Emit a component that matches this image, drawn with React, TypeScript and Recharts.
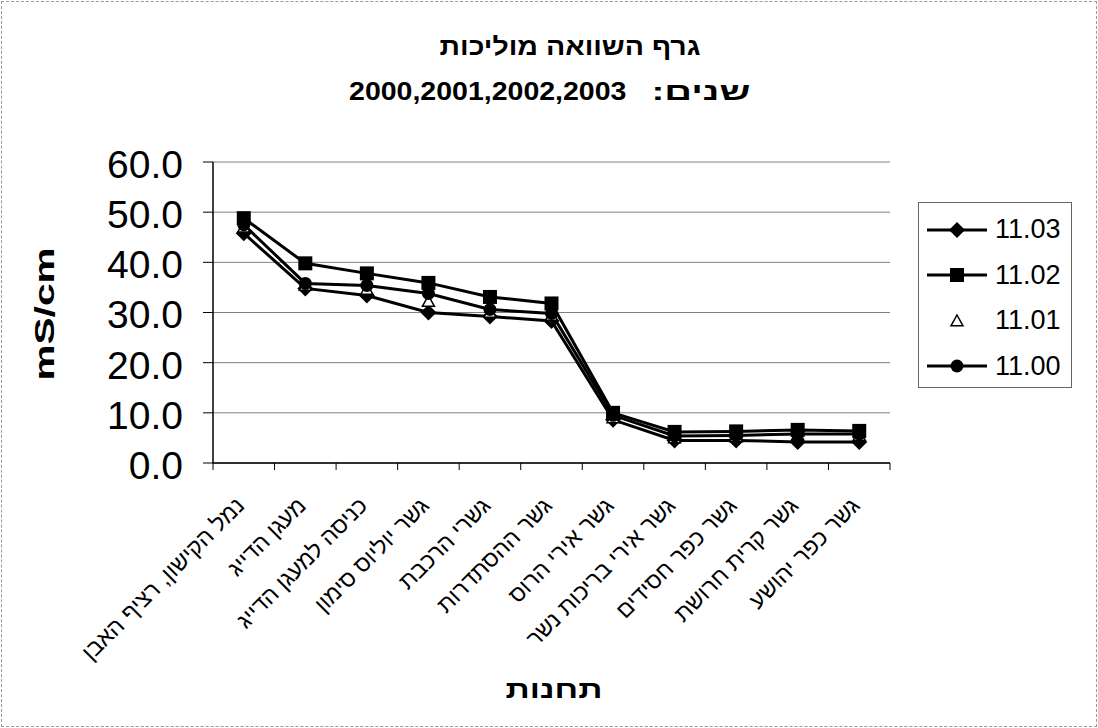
import { LineChart, Line, XAxis, YAxis, CartesianGrid } from "recharts";

const stations = [
  "נמל הקישון, רציף האבן",
  "מעגן הדייג",
  "כניסה למעגן הדייג",
  "גשר יוליוס סימון",
  "גשרי הרכבת",
  "גשר ההסתדרות",
  "גשר אירי הרוס",
  "גשר אירי בריכות נשר",
  "גשר כפר חסידים",
  "גשר קרית חרושת",
  "גשר כפר יהושע",
];

const v1103 = [45.8, 34.8, 33.4, 30.0, 29.2, 28.3, 8.6, 4.5, 4.5, 4.2, 4.2];
const v1102 = [48.8, 39.8, 37.8, 35.9, 33.1, 31.8, 10.0, 6.2, 6.3, 6.6, 6.4];
const v1101 = [47.0, 35.4, 34.6, 32.2, 30.0, 29.4, 9.0, 5.0, 5.2, 5.6, 5.5];
const v1100 = [47.5, 35.8, 35.4, 33.8, 30.6, 29.8, 9.5, 5.4, 5.5, 5.8, 5.8];

const yTicks = [0, 10, 20, 30, 40, 50, 60];
const catTicks = stations.map((_, i) => i + 1);
const betweenTicks = [...stations.map((_, i) => i + 0.5), stations.length + 0.5];

const data = stations.map((name, i) => ({
  idx: i + 1,
  name,
  s03: v1103[i],
  s02: v1102[i],
  s01: v1101[i],
  s00: v1100[i],
}));

const FONT = "'Liberation Sans', Arial, sans-serif";

const diamondDot = (p: any) => {
  const { cx, cy, index } = p;
  if (cx == null || cy == null) return <g key={index} />;
  const r = 8;
  return (
    <path key={index} d={`M${cx},${cy - r}L${cx + r},${cy}L${cx},${cy + r}L${cx - r},${cy}Z`} fill="#000" />
  );
};

const squareDot = (p: any) => {
  const { cx, cy, index } = p;
  if (cx == null || cy == null) return <g key={index} />;
  const r = 7;
  return <rect key={index} x={cx - r} y={cy - r} width={r * 2} height={r * 2} fill="#000" />;
};

const triangleDot = (p: any) => {
  const { cx, cy, index } = p;
  if (cx == null || cy == null) return <g key={index} />;
  const r = 6;
  return (
    <path key={index} d={`M${cx},${cy - r}L${cx + r},${cy + r * 0.8}L${cx - r},${cy + r * 0.8}Z`} fill="#fff" stroke="#000" strokeWidth={1.5} />
  );
};

const circleDot = (p: any) => {
  const { cx, cy, index } = p;
  if (cx == null || cy == null) return <g key={index} />;
  return <circle key={index} cx={cx} cy={cy} r={6.5} fill="#000" />;
};

const legendItems = [
  { label: "11.03", dot: diamondDot, line: true },
  { label: "11.02", dot: squareDot, line: true },
  { label: "11.01", dot: triangleDot, line: false },
  { label: "11.00", dot: circleDot, line: true },
];

const LegendBox = () => (
  <div
    style={{
      position: "absolute",
      left: 918,
      top: 202,
      width: 154,
      height: 186,
      border: "1px solid #666",
      background: "#fff",
      boxSizing: "border-box",
      paddingTop: 4,
    }}
  >
    {legendItems.map((it) => (
      <div key={it.label} style={{ display: "flex", alignItems: "center", height: 45.5, marginLeft: 8 }}>
        <svg width={60} height={22}>
          {it.line && <line x1={0} y1={11} x2={60} y2={11} stroke="#000" strokeWidth={3} />}
          {it.dot({ cx: 30, cy: 11, index: 0 })}
        </svg>
        <span style={{ fontFamily: FONT, fontSize: 27, marginLeft: 8, color: "#000" }}>{it.label}</span>
      </div>
    ))}
  </div>
);

const StationTick = (p: any) => {
  const { x, y, payload } = p;
  const tx = x + 2;
  const ty = y + 36;
  return (
    <text
      x={tx}
      y={ty}
      transform={`rotate(-45, ${tx}, ${ty})`}
      textAnchor="end"
      fontFamily={FONT}
      fontSize={23}
      fill="#000"
    >
      {stations[payload.value - 1]}
    </text>
  );
};

export default function App() {
  return (
    <div style={{ position: "absolute", left: 0, top: 0, width: 1098, height: 728, background: "#fff", overflow: "hidden" }}>
      <div
        style={{
          position: "absolute",
          left: 1,
          top: 1,
          width: 1094,
          height: 724,
          border: "1px dashed #999",
        }}
      />
      <div
        dir="rtl"
        style={{
          position: "absolute",
          left: 0,
          width: 1140,
          top: 24,
          textAlign: "center",
          fontFamily: FONT,
          fontWeight: "bold",
          fontSize: 25,
          lineHeight: "45px",
          color: "#000",
          transform: "scaleX(1.14)",
          transformOrigin: "570px 0",
        }}
      >
        <div>גרף השוואה מוליכות</div>
        <div style={{ transform: "translateX(-18px)" }}>
          <span style={{ display: "inline-block", transform: "scaleX(1.35)", transformOrigin: "right center", marginLeft: 44 }}>
            שנים:
          </span>
          <span style={{ display: "inline-block", direction: "ltr" }}>2000,2001,2002,2003</span>
        </div>
      </div>
      <LineChart
        width={1098}
        height={728}
        data={data}
        margin={{ top: 162, right: 208, bottom: 0, left: 0 }}
        style={{ position: "absolute", left: 0, top: 0 }}
      >
        <CartesianGrid vertical={false} stroke="#808080" strokeWidth={1} />
        <XAxis
          xAxisId="axisA"
          type="number"
          dataKey="idx"
          domain={[0.5, 11.5]}
          ticks={betweenTicks}
          tickFormatter={() => ""}
          tickSize={7}
          height={8}
          axisLine={{ stroke: "#000", strokeWidth: 1.5 }}
          tickLine={{ stroke: "#000" }}
        />
        <XAxis
          xAxisId="axisB"
          type="number"
          dataKey="idx"
          domain={[0.5, 11.5]}
          ticks={catTicks}
          interval={0}
          tick={StationTick}
          axisLine={false}
          tickLine={false}
          tickSize={0}
          tickMargin={0}
          height={257}
        />
        <XAxis
          xAxisId="top"
          orientation="top"
          type="number"
          dataKey="idx"
          domain={[0.5, 11.5]}
          tick={false}
          tickLine={false}
          height={0}
          axisLine={{ stroke: "#808080" }}
        />
        <YAxis
          domain={[0, 60]}
          ticks={yTicks}
          width={213}
          tickFormatter={(v: number) => v.toFixed(1)}
          tick={{ fontFamily: FONT, fontSize: 39, fill: "#000", dy: 2 }}
          tickSize={10}
          tickMargin={20}
          axisLine={{ stroke: "#000", strokeWidth: 1.5 }}
          tickLine={{ stroke: "#000" }}
          allowDataOverflow
        />
        <YAxis
          yAxisId="right"
          orientation="right"
          domain={[0, 60]}
          width={0}
          tick={false}
          tickLine={false}
          axisLine={{ stroke: "#808080" }}
        />
        <Line
          xAxisId="axisB"
          dataKey="s03"
          name="11.03"
          stroke="#000"
          strokeWidth={3}
          dot={diamondDot}
          activeDot={false}
          isAnimationActive={false}
        />
        <Line
          xAxisId="axisB"
          dataKey="s02"
          name="11.02"
          stroke="#000"
          strokeWidth={3}
          dot={squareDot}
          activeDot={false}
          isAnimationActive={false}
        />
        <Line
          xAxisId="axisB"
          dataKey="s01"
          name="11.01"
          stroke="none"
          dot={triangleDot}
          activeDot={false}
          isAnimationActive={false}
        />
        <Line
          xAxisId="axisB"
          dataKey="s00"
          name="11.00"
          stroke="#000"
          strokeWidth={3}
          dot={circleDot}
          activeDot={false}
          isAnimationActive={false}
        />
      </LineChart>
      <LegendBox />
      <div
        style={{
          position: "absolute",
          left: 45,
          top: 314,
          transform: "translate(-50%, -50%) rotate(-90deg) scaleX(1.45)",
          fontFamily: FONT,
          fontWeight: "bold",
          fontSize: 28,
          lineHeight: "28px",
          whiteSpace: "nowrap",
          color: "#000",
        }}
      >
        mS/cm
      </div>
      <div
        dir="rtl"
        style={{
          position: "absolute",
          left: 0,
          width: 1108,
          top: 674,
          textAlign: "center",
          fontFamily: FONT,
          fontWeight: "bold",
          fontSize: 25,
          lineHeight: "30px",
          color: "#000",
          transform: "scaleX(1.35)",
        }}
      >
        תחנות
      </div>
    </div>
  );
}
